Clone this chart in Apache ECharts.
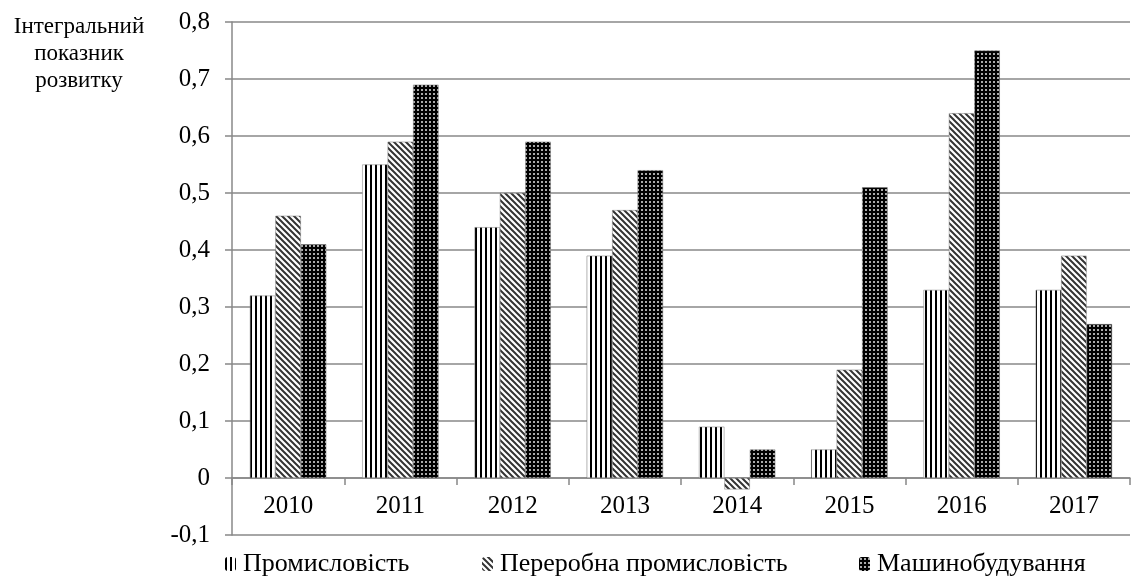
<!DOCTYPE html>
<html>
<head>
<meta charset="utf-8">
<script src="https://cdn.jsdelivr.net/npm/echarts@6/dist/echarts.min.js"></script>
<style>
html,body{margin:0;padding:0;background:#fff;}
#echartMain{width:1139px;height:576px;}
</style>
</head>
<body>
<div id="echartMain"></div>
<script>
var years=['2010','2011','2012','2013','2014','2015','2016','2017'];
var industry=[0.32,0.55,0.44,0.39,0.09,0.05,0.33,0.33];
var processing=[0.46,0.59,0.50,0.47,-0.02,0.19,0.64,0.39];
var machinery=[0.41,0.69,0.59,0.54,0.05,0.51,0.75,0.27];
var seriesNames=['Промисловість','Переробна промисловість','Машинобудування'];
var axisTitle=['Інтегральний','показник','розвитку'];

var fontName='"Liberation Serif","Times New Roman",serif';

// вертикальні смуги
function stripePattern(){
    var c=document.createElement('canvas');
    c.width=5;c.height=5;
    var ctx=c.getContext('2d');
    ctx.fillStyle='#fff';ctx.fillRect(0,0,5,5);
    ctx.fillStyle='#000';ctx.fillRect(0,0,2,5);
    return {image:c,repeat:'repeat'};
}

// діагональні смуги "\"
function diagPattern(){
    var c=document.createElement('canvas');
    c.width=6;c.height=6;
    var ctx=c.getContext('2d');
    ctx.fillStyle='#fff';ctx.fillRect(0,0,6,6);
    ctx.strokeStyle='#333';ctx.lineWidth=2;
    ctx.beginPath();
    ctx.moveTo(-3,-3);ctx.lineTo(9,9);
    ctx.moveTo(-9,-3);ctx.lineTo(3,9);
    ctx.moveTo(3,-3);ctx.lineTo(15,9);
    ctx.stroke();
    return {image:c,repeat:'repeat'};
}

// темний фон з точками
function dotPattern(){
    var c=document.createElement('canvas');
    c.width=4;c.height=4;
    var ctx=c.getContext('2d');
    ctx.fillStyle='#000';ctx.fillRect(0,0,4,4);
    ctx.fillStyle='#aaa';ctx.fillRect(1,1,2,2);
    return {image:c,repeat:'repeat'};
}

var patterns=[stripePattern(),diagPattern(),dotPattern()];
var values=[industry,processing,machinery];

var myChart=echarts.init(document.getElementById('echartMain'));

var series=[];
for(var i=0;i<3;i++){
    series.push({
        name:seriesNames[i],
        type:'bar',
        data:values[i],
        barGap:'0%',
        barCategoryGap:'32%',
        itemStyle:{color:patterns[i],borderColor:'#777',borderWidth:0.5}
    });
}

var legendLeft=[225,482,859];
var legends=[];
for(var j=0;j<3;j++){
    legends.push({
        data:[seriesNames[j]],
        left:legendLeft[j],
        top:551,
        itemWidth:11,
        itemHeight:14,
        itemGap:4,
        padding:0,
        selectedMode:false,
        itemStyle:{borderWidth:0},
        textStyle:{fontFamily:fontName,fontSize:26,color:'#000',padding:[0,0,0,2]}
    });
}

var titleText=[];
for(var k=0;k<axisTitle.length;k++){
    titleText.push({
        type:'text',
        x:79,
        y:27+k*27,
        style:{
            text:axisTitle[k],
            align:'center',
            verticalAlign:'middle',
            fontFamily:fontName,
            fontSize:23,
            fill:'#000'
        }
    });
}

var option={
    animation:false,
    textStyle:{fontFamily:fontName},
    grid:{left:232,right:9,top:22,bottom:41,containLabel:false},
    legend:legends,
    graphic:titleText,
    xAxis:{
        type:'category',
        data:years,
        offset:-57,
        axisLine:{onZero:false,lineStyle:{color:'#888',width:1.5}},
        axisTick:{show:true,length:7,lineStyle:{color:'#888',width:1.5}},
        axisLabel:{fontFamily:fontName,fontSize:25,color:'#000',margin:16}
    },
    yAxis:{
        type:'value',
        min:-0.1,
        max:0.8,
        interval:0.1,
        axisLine:{show:true,lineStyle:{color:'#888',width:1.5}},
        axisTick:{show:true,length:7,lineStyle:{color:'#888',width:1.5}},
        splitLine:{lineStyle:{color:'#888',width:1.5}},
        axisLabel:{
            fontFamily:fontName,fontSize:25,color:'#000',margin:22,
            formatter:function(v){
                var r=Math.round(v*10)/10;
                return (r===0?'0':r.toFixed(1)).replace('.',',');
            }
        }
    },
    series:series
};

myChart.setOption(option);
</script>
</body>
</html>
